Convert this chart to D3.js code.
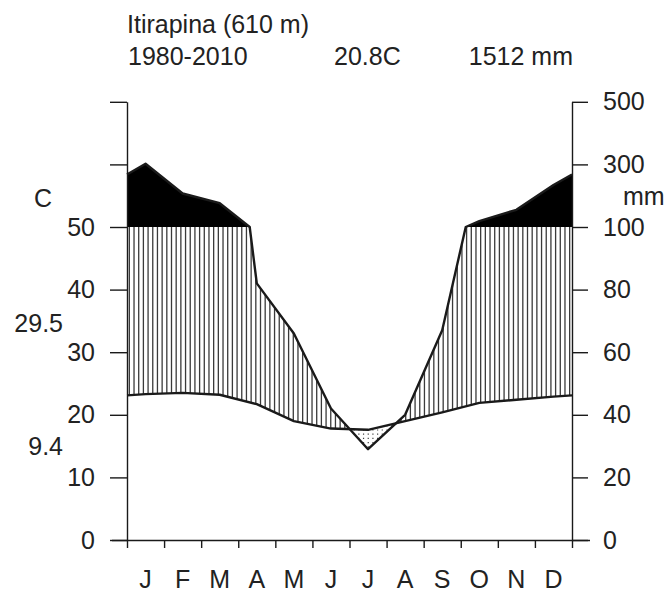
<!DOCTYPE html>
<html>
<head>
<meta charset="utf-8">
<script src="https://cdn.jsdelivr.net/npm/d3@7"></script>
<style>
  body { margin: 0; background: #fff; }
  svg { font-family: "Liberation Sans", Arial, Helvetica, sans-serif; }
</style>
</head>
<body>
<svg width="665" height="592"></svg>
<script>
// monthly values
const months = ['J', 'F', 'M', 'A', 'M', 'J', 'J', 'A', 'S', 'O', 'N', 'D'];
const temp = [23.3, 23.5, 23.2, 21.7, 19.0, 17.8, 17.6, 19.0, 20.4, 21.9, 22.4, 22.9];
const precip = [302, 207, 176, 82, 66, 42, 29, 40, 67, 119, 155, 234];

const tempTicks = [0, 10, 20, 30, 40, 50, 60, 70];
const precipTicks = [0, 20, 40, 60, 80, 100, 300, 500];

const station = 'Itirapina (610 m)';
const period = '1980-2010';
const meanTemp = '20.8C';
const totalPrecip = '1512 mm';
const maxWarm = '29.5';
const minCold = '9.4';

const svg = d3.select('svg');
const ink = '#1a1a1a';
const font = 25;

const x = d3.scaleLinear().domain([0, 12]).range([127, 572]);
const y = d3.scaleLinear().domain([0, 70]).range([540, 101.8]);
// precipitation: 10C = 20 mm up to 100 mm, compressed above
const yMm = d3.scaleLinear().domain([0, 100, 500]).range([y(0), y(50), y(70)]);

// add half-month edge points (mean of Dec and Jan)
const extend = v => {
  const e = (v[0] + v[11]) / 2;
  return [{ m: 0, v: e }, ...v.map((d, i) => ({ m: i + 0.5, v: d })), { m: 12, v: e }];
};

// insert the points where a series crosses the 100 mm break
const withBreaks = (pts, lim) => {
  const out = [];
  pts.forEach((p, i) => {
    if (i > 0) {
      const a = pts[i - 1];
      if ((a.v - lim) * (p.v - lim) < 0) {
        const f = (lim - a.v) / (p.v - a.v);
        out.push({ m: a.m + f * (p.m - a.m), v: lim });
      }
    }
    out.push(p);
  });
  return out;
};

const tPts = extend(temp);
const pPts = withBreaks(extend(precip), 100);

const yTop = y(70), yBottom = y(0);

const defs = svg.append('defs');
const addClip = (id, d) => defs.append('clipPath').attr('id', id).append('path').attr('d', d);

addClip('aboveT', d3.area().x(d => x(d.m)).y0(yTop).y1(d => y(d.v))(tPts));
addClip('belowT', d3.area().x(d => x(d.m)).y0(yBottom).y1(d => y(d.v))(tPts));
addClip('belowP', d3.area().x(d => x(d.m)).y0(yBottom).y1(d => yMm(Math.min(d.v, 100)))(pPts));
addClip('aboveP', d3.area().x(d => x(d.m)).y0(yTop).y1(d => yMm(d.v))(pPts));

const nHatch = 95;
const step = (x(12) - x(0)) / nHatch;
const hx = d3.range(nHatch).map(k => x(0) + (k + 0.5) * step);

// humid period: vertical hatching
svg.append('g').attr('clip-path', 'url(#aboveT)')
  .append('g').attr('clip-path', 'url(#belowP)')
  .selectAll('line').data(hx).join('line')
    .attr('x1', d => d).attr('x2', d => d)
    .attr('y1', yTop).attr('y2', yBottom)
    .attr('stroke', '#3a3a3a').attr('stroke-width', 1.3);

// dry period: dotted lines
svg.append('g').attr('clip-path', 'url(#belowT)')
  .append('g').attr('clip-path', 'url(#aboveP)')
  .selectAll('line').data(hx).join('line')
    .attr('x1', d => d).attr('x2', d => d)
    .attr('y1', yTop).attr('y2', yBottom)
    .attr('stroke', '#444').attr('stroke-width', 1.2)
    .attr('stroke-dasharray', '1.2,3');

// precipitation above 100 mm
svg.append('path')
  .attr('d', d3.area().x(d => x(d.m)).y0(yMm(100)).y1(d => yMm(Math.max(d.v, 100)))(pPts))
  .attr('fill', '#000');

svg.append('path')
  .attr('d', d3.line().x(d => x(d.m)).y(d => y(d.v))(tPts))
  .attr('fill', 'none').attr('stroke', ink).attr('stroke-width', 2.4)
  .attr('stroke-linejoin', 'round');

svg.append('path')
  .attr('d', d3.line().x(d => x(d.m)).y(d => yMm(d.v))(pPts))
  .attr('fill', 'none').attr('stroke', ink).attr('stroke-width', 2.4)
  .attr('stroke-linejoin', 'round');

// axes
const styleAxis = g => {
  g.attr('font-family', null).attr('font-size', font);
  g.selectAll('path, line').attr('stroke', ink).attr('stroke-width', 1.4);
  g.selectAll('text').attr('fill', '#222');
};

svg.append('g')
  .attr('transform', `translate(${x(0)},0)`)
  .call(d3.axisLeft(y).tickValues(tempTicks).tickSize(17).tickSizeOuter(0).tickPadding(15)
    .tickFormat(d => d <= 50 ? d : ''))
  .call(styleAxis);

svg.append('g')
  .attr('transform', `translate(${x(12)},0)`)
  .call(d3.axisRight(yMm).tickValues(precipTicks).tickSize(16).tickSizeOuter(0).tickPadding(15))
  .call(styleAxis);

const xAxis = svg.append('g')
  .attr('transform', `translate(0,${y(0)})`)
  .call(d3.axisBottom(x).tickValues(d3.range(13)).tickSize(8).tickSizeOuter(0).tickFormat(''))
  .call(styleAxis);
xAxis.select('.domain').attr('d', `M${x(0) - 15},0.5H${x(12) + 18}`);

svg.append('g')
  .selectAll('text').data(months).join('text')
    .attr('x', (d, i) => x(i + 0.5))
    .attr('y', 588)
    .attr('text-anchor', 'middle')
    .attr('font-size', font).attr('fill', '#222')
    .text(d => d);

// header and side labels
const label = (t, lx, ly, anchor) => svg.append('text')
  .attr('x', lx).attr('y', ly)
  .attr('text-anchor', anchor || 'start')
  .attr('font-size', font).attr('fill', '#222')
  .text(t);

label(station, 127, 33);
label(period, 128, 65);
label(meanTemp, 334, 65);
label(totalPrecip, x(12) + 1, 65, 'end');
label('C', 43, 207, 'middle');
label('mm', 623, 205);
label(maxWarm, 63, 332, 'end');
label(minCold, 63, 455, 'end');
</script>
</body>
</html>
